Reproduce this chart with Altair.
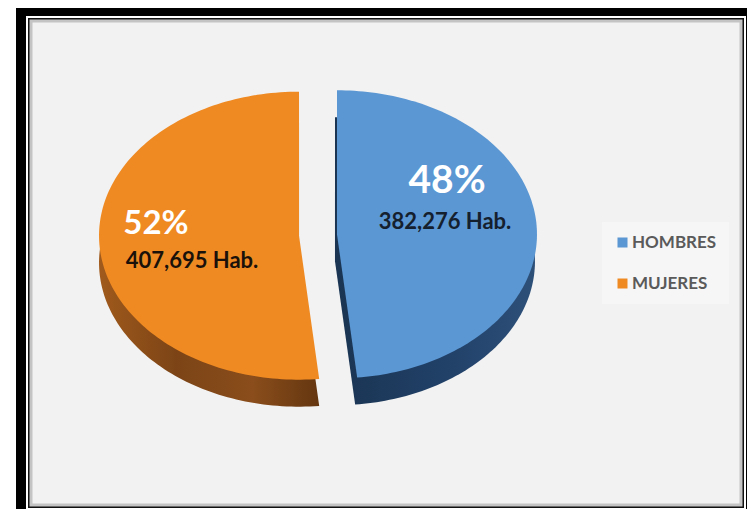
import altair as alt
import pandas as pd

# ---- data ----
categories = ["HOMBRES", "MUJERES"]
habitantes = [382276, 407695]
slice_order = [0, 1]
top_colors = ["#5b97d3", "#ef8a23"]

df = pd.DataFrame({"cat": categories, "val": habitantes, "ord": slice_order})

# ---- geometry / style constants (page pixels) ----
W, H = 739, 501
CX, CY, A, B, E, D = 318, 235, 200, 144, 19, 27
N = 140
FONT = "Lato"

xenc = alt.X("px:Q", scale=alt.Scale(domain=[8, 8 + W], nice=False, zero=False), axis=None)
yenc = alt.Y("py:Q", scale=alt.Scale(domain=[8, 8 + H], nice=False, zero=False, reverse=True), axis=None)


def slice_base(dy, dx=0):
    return (
        alt.Chart(df)
        .transform_joinaggregate(total="sum(val)")
        .transform_window(cum="sum(val)", sort=[alt.SortField("ord")], frame=[None, 0])
        .transform_calculate(
            t0="2*PI*(datum.cum - datum.val)/datum.total",
            t1="2*PI*datum.cum/datum.total",
        )
        .transform_calculate(
            mid="(datum.t0 + datum.t1)/2",
            seq=f"sequence(0, {N + 2})",
        )
        .transform_flatten(["seq"], as_=["i"])
        .transform_calculate(
            r=f"(datum.i == 0 || datum.i == {N + 1}) ? 0 : 1",
            ang=f"datum.t0 + (datum.t1 - datum.t0) * clamp(datum.i - 1, 0, {N - 1}) / {N - 1}",
        )
        .transform_calculate(
            px=f"{CX} + {dx} + {E}*sin(datum.mid) + datum.r*{A}*sin(datum.ang)",
            py=f"{CY} + {dy} - {E * B / A}*cos(datum.mid) - datum.r*{B}*cos(datum.ang)",
        )
    )


def rect(x0, y0, x1, y1, color, **kw):
    return alt.Chart(alt.Data(values=[{"k": 1}])).mark_rect(color=color, **kw).encode(
        x=alt.value(x0 - 8), x2=alt.value(x1 - 8), y=alt.value(y0 - 8), y2=alt.value(y1 - 8)
    )


frame = [
    rect(16, 6, 760, 520, "#000000"),
    rect(26, 16, 746, 509, "#ffffff"),
    rect(28, 18, 744, 508, "#111111"),
    rect(31, 21, 741, 505, "#f2f2f2", stroke="#c4c4c4", strokeWidth=3),
    rect(33, 23, 739, 503, "#f2f2f2"),
]

side_grad = {
    "HOMBRES": alt.LinearGradient(
        gradient="linear", x1=0, y1=0, x2=1, y2=0,
        stops=[alt.GradientStop(offset=0, color="#1a3452"), alt.GradientStop(offset=0.6, color="#22426a"),
               alt.GradientStop(offset=1, color="#2d5079")],
    ),
    "MUJERES": alt.LinearGradient(
        gradient="linear", x1=0, y1=0, x2=1, y2=0,
        stops=[alt.GradientStop(offset=0, color="#a05a1c"), alt.GradientStop(offset=0.35, color="#7c4416"),
               alt.GradientStop(offset=0.7, color="#8a4d1b"), alt.GradientStop(offset=1, color="#643610")],
    ),
}

side_dx = {"HOMBRES": -2, "MUJERES": 0}

sides = [
    slice_base(D, side_dx[c])
    .transform_filter(alt.datum.cat == c)
    .mark_line(fill=side_grad[c], strokeWidth=0, strokeOpacity=0)
    .encode(x=xenc, y=yenc, order=alt.Order("i:Q"))
    for c in categories
]

top = slice_base(0).mark_line(strokeWidth=0, strokeOpacity=0).encode(
    x=xenc,
    y=yenc,
    order=alt.Order("i:Q"),
    fill=alt.Fill(
        "cat:N",
        scale=alt.Scale(domain=categories, range=top_colors),
        legend=alt.Legend(
            title=None,
            orient="none",
            legendX=594,
            legendY=214,
            symbolType="square",
            symbolSize=100,
            symbolStrokeWidth=0,
            labelFont=FONT,
            labelFontSize=17,
            labelFontWeight="bold",
            labelColor="#5a5a5a",
            labelOffset=1,
            rowPadding=23,
            padding=12,
            fillColor="rgba(255,255,255,0.35)",
        ),
    ),
)


def label(cat, expr, x, y, size, color):
    return (
        alt.Chart(df)
        .transform_joinaggregate(total="sum(val)")
        .transform_filter(alt.datum.cat == cat)
        .transform_calculate(txt=expr)
        .mark_text(font=FONT, fontWeight="bold", fontSize=size, color=color, align="center", baseline="middle")
        .encode(text="txt:N", x=alt.value(x - 8), y=alt.value(y - 8))
    )


pct = "format(datum.val/datum.total, '.0%')"
hab = "format(datum.val, ',') + ' Hab.'"
labels = [
    label("HOMBRES", pct, 447, 181, 39, "#ffffff"),
    label("HOMBRES", hab, 445, 222, 22, "#15202e"),
    label("MUJERES", pct, 156, 224, 33, "#ffffff"),
    label("MUJERES", hab, 192, 261, 22, "#1a120a"),
]

chart = (
    alt.layer(*frame, *sides, top, *labels)
    .properties(width=W, height=H, autosize=alt.AutoSizeParams(type="none"), padding=0, background="#ffffff")
    .configure_view(stroke=None)
)

chart.save("out.html", embed_options={"renderer": "svg", "actions": False})
